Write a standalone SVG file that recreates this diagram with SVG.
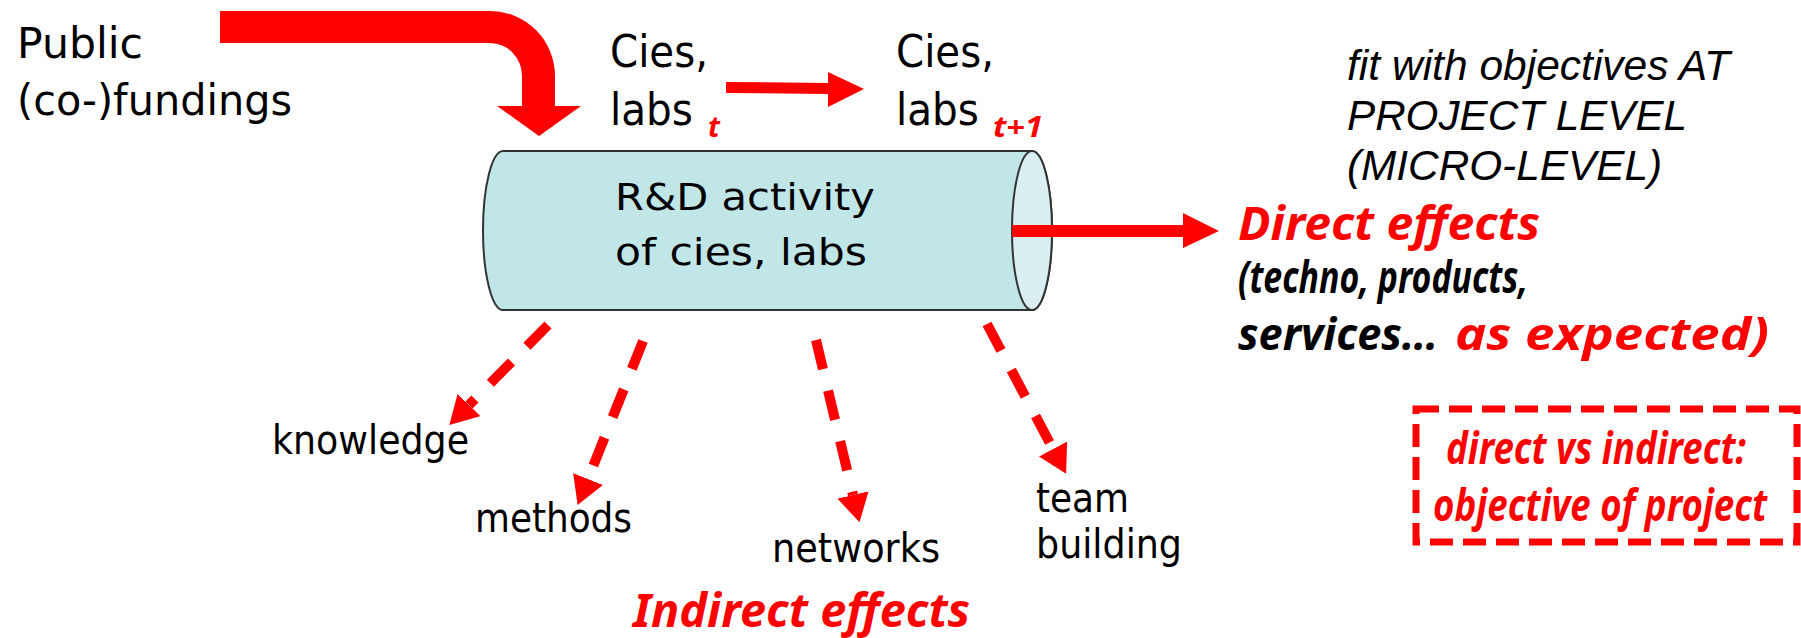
<svg xmlns="http://www.w3.org/2000/svg" width="1801" height="638" viewBox="0 0 1801 638">
  <style>
    .sans { font-family: "DejaVu Sans", "Noto Sans", sans-serif; fill: #000; }
    .hl { font-family: "Noto Sans", "DejaVu Sans", sans-serif; font-weight: bold; font-style: italic; fill: #ff0000; }
    .bi { font-family: "Noto Sans", "DejaVu Sans", sans-serif; font-weight: bold; font-style: italic; fill: #000; }
    .note { font-family: "Liberation Sans", Arial, sans-serif; font-style: italic; fill: #000; font-size: 42px; }
    .dash { fill: none; stroke: #ff0000; stroke-width: 10; stroke-dasharray: 30 22; }
    .solid { fill: #ff0000; }
  </style>
  <defs>
    <marker id="head" markerUnits="userSpaceOnUse" viewBox="0 0 28 32" markerWidth="28" markerHeight="32" refX="0" refY="16" orient="auto">
      <path d="M0,0 L28,16 L0,32 Z" fill="#ff0000"/>
    </marker>
  </defs>

  <!-- funding source -->
  <g id="funding">
    <text class="sans" x="17" y="58" font-size="43" textLength="126" lengthAdjust="spacingAndGlyphs">Public</text>
    <text class="sans" x="17" y="115" font-size="43" textLength="275" lengthAdjust="spacingAndGlyphs">(co-)fundings</text>
  </g>

  <!-- actors at time t -->
  <g id="actors-t">
    <text class="sans" x="610" y="67" font-size="44" textLength="98" lengthAdjust="spacingAndGlyphs">Cies,</text>
    <text class="sans" x="610" y="125" font-size="44" textLength="83" lengthAdjust="spacingAndGlyphs">labs</text>
    <text class="hl" x="708" y="137" font-size="29">t</text>
  </g>

  <!-- actors at time t+1 -->
  <g id="actors-t1">
    <text class="sans" x="896" y="67" font-size="44" textLength="98" lengthAdjust="spacingAndGlyphs">Cies,</text>
    <text class="sans" x="896" y="125" font-size="44" textLength="83" lengthAdjust="spacingAndGlyphs">labs</text>
    <text class="hl" x="993" y="137" font-size="29" textLength="50" lengthAdjust="spacingAndGlyphs">t+1</text>
  </g>

  <!-- project-level note -->
  <g id="project-level">
    <text class="note" x="1347" y="80" textLength="383" lengthAdjust="spacingAndGlyphs">fit with objectives AT</text>
    <text class="note" x="1347" y="130" textLength="340" lengthAdjust="spacingAndGlyphs">PROJECT LEVEL</text>
    <text class="note" x="1347" y="180" textLength="315" lengthAdjust="spacingAndGlyphs">(MICRO-LEVEL)</text>
  </g>

  <!-- R&D activity cylinder -->
  <g id="rd-activity">
    <path d="M503,151 L1032,151 A20,79.5 0 0 1 1032,310 L503,310 A20,79.5 0 0 1 503,151 Z" fill="#c1e6e8" stroke="#333" stroke-width="2"/>
    <ellipse cx="1032" cy="230.5" rx="20" ry="79.5" fill="#d9eff1" stroke="#333" stroke-width="2"/>
    <text class="sans" x="615" y="210" font-size="38" textLength="260" lengthAdjust="spacingAndGlyphs">R&amp;D activity</text>
    <text class="sans" x="615" y="265" font-size="38" textLength="252" lengthAdjust="spacingAndGlyphs">of cies, labs</text>
  </g>

  <!-- direct effects -->
  <g id="direct-effects">
    <text class="hl" x="1238" y="240" font-size="46" textLength="302" lengthAdjust="spacingAndGlyphs">Direct effects</text>
    <text class="bi" x="1238" y="293" font-size="44" textLength="290" lengthAdjust="spacingAndGlyphs">(techno, products,</text>
    <text class="bi" x="1238" y="350" font-size="44" textLength="200" lengthAdjust="spacingAndGlyphs">services…</text>
    <text class="hl" x="1455" y="350" font-size="44" textLength="314" lengthAdjust="spacingAndGlyphs">as expected)</text>
  </g>

  <!-- indirect effect targets -->
  <g id="knowledge">
    <text class="sans" x="272" y="454" font-size="40" textLength="197" lengthAdjust="spacingAndGlyphs">knowledge</text>
  </g>
  <g id="methods">
    <text class="sans" x="475" y="532" font-size="40" textLength="157" lengthAdjust="spacingAndGlyphs">methods</text>
  </g>
  <g id="networks">
    <text class="sans" x="772" y="562" font-size="40" textLength="168" lengthAdjust="spacingAndGlyphs">networks</text>
  </g>
  <g id="team-building">
    <text class="sans" x="1036" y="512" font-size="40" textLength="93" lengthAdjust="spacingAndGlyphs">team</text>
    <text class="sans" x="1036" y="558" font-size="40" textLength="146" lengthAdjust="spacingAndGlyphs">building</text>
  </g>
  <g id="indirect-effects">
    <text class="hl" x="633" y="627" font-size="46" textLength="337" lengthAdjust="spacingAndGlyphs">Indirect effects</text>
  </g>

  <!-- direct vs indirect callout -->
  <g id="callout">
    <rect x="1416" y="409" width="381" height="133" fill="none" stroke="#ff0000" stroke-width="7" stroke-dasharray="23 10"/>
    <text class="hl" x="1596" y="464" font-size="44" text-anchor="middle" textLength="300" lengthAdjust="spacingAndGlyphs">direct vs indirect:</text>
    <text class="hl" x="1600" y="521" font-size="44" text-anchor="middle" textLength="334" lengthAdjust="spacingAndGlyphs">objective of project</text>
  </g>

  <!-- connectors -->
  <g id="connectors">
    <!-- funding flow into the activity -->
    <path class="solid" d="M220,11 L490,11 A65,65 0 0 1 555,76 L555,106 L581,106 L539,136 L497,106 L522,106 L522,76 A32,33 0 0 0 490,43 L220,43 Z"/>
    <!-- t to t+1 -->
    <path class="solid" d="M726,82 L828,83 L828,72 L864,89 L828,107 L828,94 L726,93 Z"/>
    <!-- to direct effects -->
    <path class="solid" d="M1012,225 L1183,225 L1183,213 L1219,231 L1183,248 L1183,237 L1012,237 Z"/>
    <!-- indirect effects -->
    <line class="dash" x1="548" y1="325" x2="469" y2="405" marker-end="url(#head)"/>
    <line class="dash" x1="643" y1="341" x2="588" y2="479" marker-end="url(#head)"/>
    <line class="dash" x1="816" y1="340" x2="853" y2="495" marker-end="url(#head)"/>
    <line class="dash" x1="987" y1="324" x2="1053" y2="449" marker-end="url(#head)"/>
  </g>
</svg>
